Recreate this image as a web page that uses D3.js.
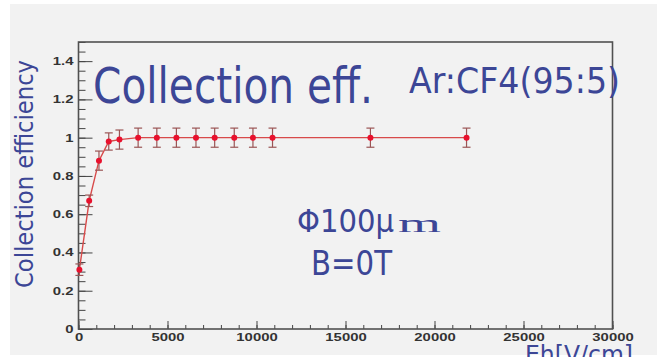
<!DOCTYPE html>
<html><head><meta charset="utf-8">
<script src="https://cdn.jsdelivr.net/npm/d3@7"></script>
<style>html,body{margin:0;padding:0;background:#fff;overflow:hidden}</style>
</head><body>
<svg id="c" width="657" height="357"></svg>
<script>
// Data
const fieldValues = [50, 600, 1150, 1700, 2300, 3350, 4400, 5500, 6600, 7650, 8750, 9800, 10900, 16400, 21800];
const efficiency  = [0.31, 0.67, 0.88, 0.98, 0.99, 1.0, 1.0, 1.0, 1.0, 1.0, 1.0, 1.0, 1.0, 1.0, 1.0];
const errors      = [0.03, 0.03, 0.05, 0.045, 0.05, 0.05, 0.05, 0.05, 0.05, 0.05, 0.05, 0.05, 0.05, 0.05, 0.05];
const xTicks = [0, 5000, 10000, 15000, 20000, 25000, 30000];
const yTicks = [0, 0.2, 0.4, 0.6, 0.8, 1, 1.2, 1.4];

const svg = d3.select("#c");
const blue = "#3c4696";

svg.append("rect").attr("x",10).attr("y",4).attr("width",660).attr("height",351).attr("fill","#f2f2f2");

// partial slide title glyphs at top
svg.append("text").attr("x",43).attr("y",-6).attr("font-family","DejaVu Sans").attr("font-size",28).attr("fill","#5568dd").text("yp");

const L = 78.5, R = 612.5, T = 42, B = 329;
const x = d3.scaleLinear().domain([0,30000]).range([L,R]);
const y = d3.scaleLinear().domain([0,1.5]).range([B,T]);

const stretch = function(k){ return function(){ const w=this.getComputedTextLength(); d3.select(this).attr("textLength",w*k).attr("lengthAdjust","spacingAndGlyphs"); }; };

// minor ticks
svg.append("g").attr("transform",`translate(${L},0)`)
  .call(d3.axisLeft(y).tickValues(d3.range(0,1.5001,0.05)).tickSize(-7).tickFormat(""))
  .call(g=>{g.select(".domain").remove(); g.selectAll("line").attr("stroke","#444");});
svg.append("g").attr("transform",`translate(0,${B})`)
  .call(d3.axisBottom(x).tickValues(d3.range(0,30001,1000)).tickSize(-4).tickFormat(""))
  .call(g=>{g.select(".domain").remove(); g.selectAll("line").attr("stroke","#444");});

// major ticks + labels
svg.append("g").attr("transform",`translate(${L},0)`)
  .call(d3.axisLeft(y).tickValues(yTicks).tickSize(-14).tickPadding(5).tickFormat(d3.format("~g")))
  .call(g=>{g.select(".domain").remove(); g.selectAll("line").attr("stroke","#444");
    g.selectAll("text").attr("font-family","Liberation Sans").attr("font-weight","bold").attr("font-size",11).attr("fill","#333").each(stretch(1.35));});
svg.append("g").attr("transform",`translate(0,${B})`)
  .call(d3.axisBottom(x).tickValues(xTicks).tickSize(-8).tickPadding(4).tickFormat(d3.format("d")))
  .call(g=>{g.select(".domain").remove(); g.selectAll("line").attr("stroke","#444");
    g.selectAll("text").attr("font-family","Liberation Sans").attr("font-weight","bold").attr("font-size",11).attr("fill","#333").each(stretch(1.35));});

// frame
svg.append("rect").attr("x",L).attr("y",T).attr("width",R-L).attr("height",B-T)
  .attr("fill","none").attr("stroke","#505050").attr("stroke-width",1.6);

// data
const pts = fieldValues.map((v,i)=>({x:v,y:efficiency[i],e:errors[i]}));
const line = d3.line().x(d=>x(d.x)).y(d=>y(d.y));
svg.append("path").datum(pts).attr("d",line).attr("fill","none").attr("stroke","#d84a4a").attr("stroke-width",1.4);
const eb = svg.append("g").attr("stroke","#9b5555").attr("stroke-width",1.2);
pts.forEach(d=>{
  eb.append("line").attr("x1",x(d.x)).attr("x2",x(d.x)).attr("y1",y(d.y-d.e)).attr("y2",y(d.y+d.e));
  eb.append("line").attr("x1",x(d.x)-4).attr("x2",x(d.x)+4).attr("y1",y(d.y-d.e)).attr("y2",y(d.y-d.e));
  eb.append("line").attr("x1",x(d.x)-4).attr("x2",x(d.x)+4).attr("y1",y(d.y+d.e)).attr("y2",y(d.y+d.e));
});
svg.append("g").selectAll("circle").data(pts).join("circle")
  .attr("cx",d=>x(d.x)).attr("cy",d=>y(d.y)).attr("r",3).attr("fill","#e8112d");

// texts
const txt = (s,xx,yy,fs,len,fam)=>svg.append("text").attr("x",xx).attr("y",yy).attr("font-family",fam||"DejaVu Sans")
  .attr("font-size",fs).attr("fill",blue).attr("textLength",len).attr("lengthAdjust","spacingAndGlyphs").text(s);
txt("Collection eff.",93,103,50,280);
txt("Ar:CF4(95:5)",409,93,36,211);
txt("Φ100μ",297,232,32,97);
txt("m",398,232,26,43,"Liberation Serif");
txt("B=0T",311,275,34,81);
txt("Eh[V/cm]",525,363,24,108);
svg.append("text").attr("transform","translate(33,288) rotate(-90)").attr("font-family","DejaVu Sans")
  .attr("font-size",24).attr("fill",blue).attr("textLength",228).attr("lengthAdjust","spacingAndGlyphs").text("Collection efficiency");
</script>
</body></html>
